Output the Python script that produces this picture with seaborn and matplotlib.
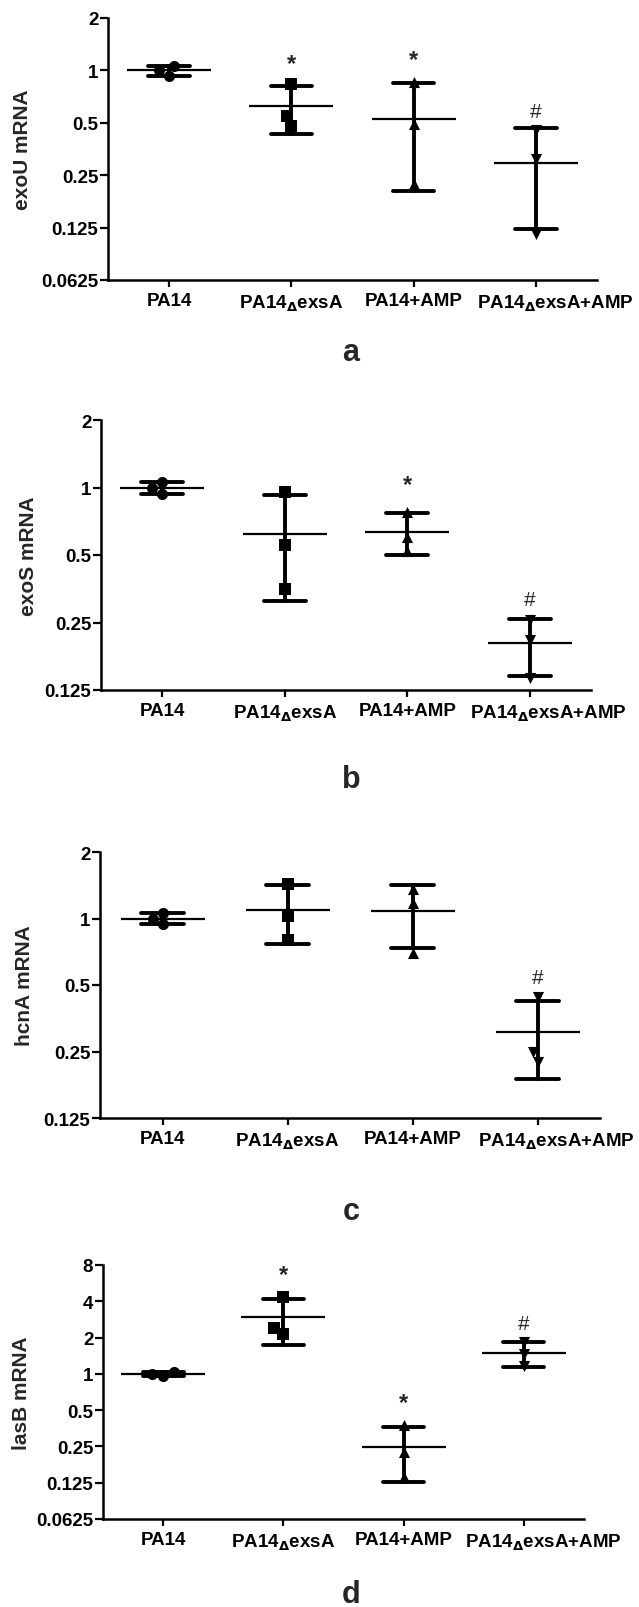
import pandas as pd
import seaborn as sns
import matplotlib
matplotlib.use('Agg')
import matplotlib.pyplot as plt
from matplotlib.ticker import NullLocator
from matplotlib.transforms import ScaledTranslation

groups = ["PA14", "PA14dexsA", "PA14+AMP", "PA14dexsA+AMP"]
group_labels = ["PA14", r"PA14$_{\Delta}$exsA", "PA14+AMP", r"PA14$_{\Delta}$exsA+AMP"]
group_markers = ["o", "s", "^", "v"]

# relative mRNA, three replicates per group
exoU = [[1.06, 0.93, 1.01], [0.84, 0.55, 0.48], [0.86, 0.49, 0.222], [0.455, 0.31, 0.115]]
exoS = [[1.06, 0.94, 1.00], [0.95, 0.553, 0.351], [0.78, 0.60, 0.52], [0.257, 0.208, 0.142]]
hcnA = [[1.06, 0.94, 1.00], [1.44, 1.03, 0.80], [1.36, 1.18, 0.70], [0.44, 0.25, 0.225]]
lasB = [[1.04, 0.96, 1.00], [4.35, 2.40, 2.13], [0.375, 0.225, 0.14], [1.84, 1.45, 1.17]]

# significance marks: (group index, symbol, height)
exoU_marks = [(1, "*", 1.09), (2, "*", 1.15), (3, "#", 0.58)]
exoS_marks = [(2, "*", 1.03), (3, "#", 0.315)]
hcnA_marks = [(3, "#", 0.54)]
lasB_marks = [(1, "*", 6.7), (2, "*", 0.58), (3, "#", 2.62)]

exoU_ticks = [0.0625, 0.125, 0.25, 0.5, 1, 2]
exoS_ticks = [0.125, 0.25, 0.5, 1, 2]
hcnA_ticks = [0.125, 0.25, 0.5, 1, 2]
lasB_ticks = [0.0625, 0.125, 0.25, 0.5, 1, 2, 4, 8]
tick_text = {0.0625: "0.0625", 0.125: "0.125", 0.25: "0.25", 0.5: "0.5",
             1: "1", 2: "2", 4: "4", 8: "8"}

panels = [
    ("exoU mRNA", exoU, exoU_marks, exoU_ticks, "a"),
    ("exoS mRNA", exoS, exoS_marks, exoS_ticks, "b"),
    ("hcnA mRNA", hcnA, hcnA_marks, hcnA_ticks, "c"),
    ("lasB mRNA", lasB, lasB_marks, lasB_ticks, "d"),
]

# layout in pixels: left, right, top, bottom, ylabel x, letter y
W, H = 639, 1608
boxes = [
    (108, 597, 19, 281, 23, 353),
    (101, 591, 421, 691, 28, 780),
    (100, 600, 853, 1119, 25, 1212),
    (103, 584, 1266, 1520, 22, 1595),
]

sns.set_style("ticks")
plt.rcParams['font.family'] = ['Liberation Sans', 'DejaVu Sans']
plt.rcParams['font.weight'] = 'bold'

fig = plt.figure(figsize=(W / 100, H / 100), dpi=100)

for (ylabel, values, marks, ticks, letter), (l, r, t, b, lx, ly) in zip(panels, boxes):
    ax = fig.add_axes([l / W, 1 - b / H, (r - l) / W, (b - t) / H])
    df = pd.DataFrame({
        "group": [g for g, vals in zip(groups, values) for _ in vals],
        "value": [v for vals in values for v in vals],
    })
    sns.pointplot(data=df, x="group", y="value", order=groups, errorbar="sd",
                  color="black", marker="_", markersize=60, markeredgewidth=1.6,
                  linestyle="none", capsize=0.34, err_kws={"linewidth": 2.8}, ax=ax)
    for g, m in zip(groups, group_markers):
        sns.swarmplot(data=df[df["group"] == g], x="group", y="value", order=groups,
                      marker=m, color="black", size=8, linewidth=0, ax=ax)
    for i, sym, y in marks:
        if sym == "*":
            ax.text(i, y, sym, ha="center", va="center", fontsize=17, fontweight="bold")
        else:
            ax.text(i, y, sym, ha="center", va="center", fontsize=15, fontweight="normal")

    ax.set_yscale("log", base=2)
    ax.set_ylim(ticks[0], ticks[-1])
    ax.set_yticks(ticks)
    ax.set_yticklabels([tick_text[v] for v in ticks])
    ax.yaxis.set_minor_locator(NullLocator())
    ax.set_xlim(-0.5, 3.5)
    ax.set_xticks(range(len(groups)))
    ax.set_xticklabels(group_labels)
    ax.set_xlabel("")
    ax.set_ylabel(ylabel, fontsize=15, fontweight="bold")
    ax.yaxis.label.set_va("center")
    ax.yaxis.set_label_coords((lx - l) / (r - l), 0.5)
    sns.despine(ax=ax)
    for side in ["left", "bottom"]:
        ax.spines[side].set_linewidth(1.8)
        ax.spines[side].set_color("black")
    ax.tick_params(axis="y", length=6, width=1.6, pad=1, labelsize=13.5, colors="black")
    ax.tick_params(axis="x", length=5, width=1.6, pad=4, labelsize=13.5, colors="black")
    # the long last label sits to the right of its tick, as in the original
    last = ax.get_xticklabels()[-1]
    last.set_transform(last.get_transform() + ScaledTranslation(0.19, 0, fig.dpi_scale_trans))
    fig.text(351 / W, 1 - ly / H, letter, ha="center", va="center",
             fontsize=22, fontweight="bold")

fig.savefig("out.png", dpi=100)
